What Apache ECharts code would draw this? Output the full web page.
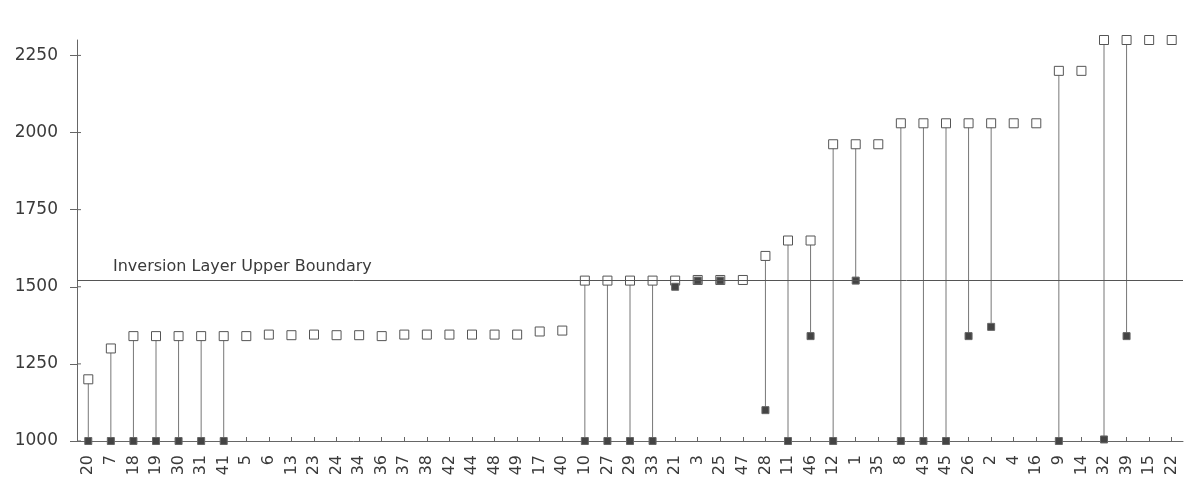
<!DOCTYPE html>
<html>
<head>
<meta charset="utf-8">
<script src="https://cdn.jsdelivr.net/npm/echarts@6/dist/echarts.min.js"></script>
<style>
html,body{margin:0;padding:0;background:#fff;}
#chart{width:1189px;height:485px;}
</style>
</head>
<body>
<div id="chart"></div>
<script>
// ---- data ----
var categories = ['20','7','18','19','30','31','41','5','6','13','23','24','34','36','37','38','42','44','48','49','17','40','10','27','29','33','21','3','25','47','28','11','46','12','1','35','8','43','45','26','2','4','16','9','14','32','39','15','22'];
var upperValues = [1200,1300,1340,1340,1340,1340,1340,1340,1345,1343,1345,1343,1343,1340,1345,1345,1345,1345,1345,1345,1355,1358,1520,1520,1520,1520,1520,1522,1522,1522,1600,1650,1650,1962,1962,1962,2030,2030,2030,2030,2030,2030,2030,2200,2200,2300,2300,2300,2300];
var lowerValues = [1000,1000,1000,1000,1000,1000,1000,null,null,null,null,null,null,null,null,null,null,null,null,null,null,null,1000,1000,1000,1000,1500,1520,1520,null,1100,1000,1340,1000,1520,null,1000,1000,1000,1340,1370,null,null,1000,null,1005,1340,null,null];
var yTicks = [1000,1250,1500,1750,2000,2250];
var boundaryValue = 1520;
var boundaryLabel = 'Inversion Layer Upper Boundary';

// ---- build ----
var stemData = [];
for (var i = 0; i < categories.length; i++) {
  if (lowerValues[i] != null) stemData.push([i, lowerValues[i], upperValues[i]]);
}
var font = 'DejaVu Sans';
var axisColor = '#666';
var chart = echarts.init(document.getElementById('chart'));
chart.setOption({
  animation: false,
  backgroundColor: '#fff',
  grid: {left: 77, right: 6, top: 40, bottom: 44},
  xAxis: [{
    type: 'category', data: categories, position: 'bottom', boundaryGap: true,
    axisLine: {lineStyle: {color: axisColor, width: 1}},
    axisTick: {alignWithLabel: true, length: 4, lineStyle: {color: axisColor}},
    axisLabel: {rotate: 90, margin: 14, interval: 0, fontFamily: font, fontSize: 16, color: '#3a3a3a'},
    splitLine: {show: false}
  }, {
    type: 'category', data: categories, position: 'bottom', boundaryGap: true,
    axisLine: {show: false, onZero: false},
    axisTick: {show: true, alignWithLabel: true, inside: true, length: 4, lineStyle: {color: axisColor}},
    axisLabel: {show: false}, splitLine: {show: false}
  }],
  yAxis: [{
    type: 'value', min: 1000, max: 2300, interval: 250, position: 'left',
    axisLine: {show: true, onZero: false, lineStyle: {color: axisColor, width: 1}},
    axisTick: {show: true, length: 7, customValues: yTicks, lineStyle: {color: axisColor}},
    axisLabel: {margin: 19, customValues: yTicks, fontFamily: font, fontSize: 17, color: '#3a3a3a',
      formatter: function (v) { return String(v); }},
    splitLine: {show: false}
  }],
  series: [{
    // inner half of the crossing y-axis ticks
    type: 'custom', xAxisIndex: 0, yAxisIndex: 0, data: yTicks.map(function (v) { return [0, v]; }),
    clip: false, silent: true,
    renderItem: function (params, api) {
      var y = api.coord([0, api.value(1)])[1];
      var x0 = params.coordSys.x;
      return {type: 'line', shape: {x1: x0, y1: y, x2: x0 + 4, y2: y},
        style: {stroke: axisColor, lineWidth: 1}};
    },
    z: 1
  }, {
    type: 'custom', xAxisIndex: 0, yAxisIndex: 0, data: stemData, clip: false,
    renderItem: function (params, api) {
      var p1 = api.coord([api.value(0), api.value(1)]);
      var p2 = api.coord([api.value(0), api.value(2)]);
      return {type: 'line', shape: {x1: p1[0], y1: p1[1], x2: p2[0], y2: p2[1]},
        style: {stroke: '#777', lineWidth: 1}};
    },
    z: 1
  }, {
    type: 'scatter', xAxisIndex: 0, yAxisIndex: 0, data: upperValues, clip: false,
    symbol: 'rect', symbolSize: 9,
    itemStyle: {color: '#fff', borderColor: '#555', borderWidth: 1, opacity: 1},
    markLine: {
      silent: true, symbol: 'none', animation: false,
      lineStyle: {color: '#555', width: 1, type: 'solid'},
      label: {show: true, position: 'insideStartTop', formatter: boundaryLabel,
        fontFamily: font, fontSize: 16, color: '#3a3a3a', padding: [0, 0, 0, 30], distance: 6},
      data: [{yAxis: boundaryValue}]
    },
    z: 3
  }, {
    type: 'scatter', xAxisIndex: 0, yAxisIndex: 0, data: lowerValues, clip: false,
    symbol: 'rect', symbolSize: 7,
    itemStyle: {color: '#444', borderColor: '#666', borderWidth: 1, opacity: 1},
    z: 4
  }]
});
</script>
</body>
</html>
